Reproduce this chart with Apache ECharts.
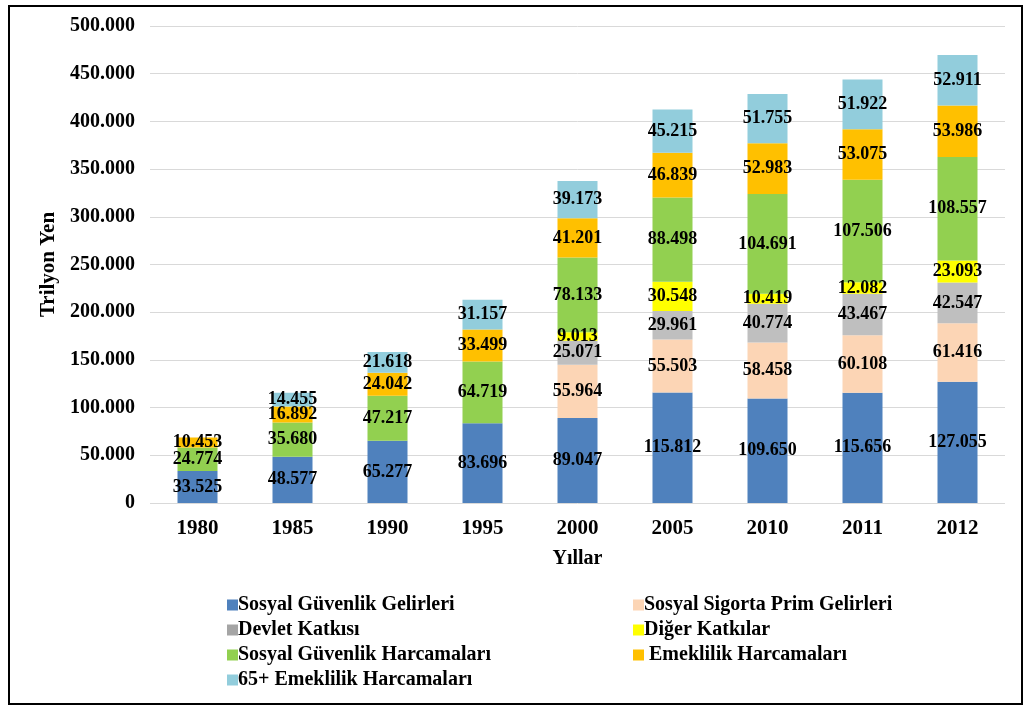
<!DOCTYPE html>
<html><head><meta charset="utf-8">
<script src="https://cdn.jsdelivr.net/npm/echarts@6/dist/echarts.min.js"></script>
<style>
html,body{margin:0;padding:0;background:#fff;}
#frame{position:absolute;left:8px;top:5px;width:1011px;height:696px;border:2px solid #000;}
#c{position:absolute;left:0;top:0;width:1026px;height:708px;}
</style></head><body>
<div id="frame"></div>
<div id="c"></div>
<script>
const years = ['1980','1985','1990','1995','2000','2005','2010','2011','2012'];
const sgGelirleri = [33.525, 48.577, 65.277, 83.696, 89.047, 115.812, 109.650, 115.656, 127.055];
const sigortaPrim = [null, null, null, null, 55.964, 55.503, 58.458, 60.108, 61.416];
const devletKatkisi = [null, null, null, null, 25.071, 29.961, 40.774, 43.467, 42.547];
const digerKatkilar = [null, null, null, null, 9.013, 30.548, 10.419, 12.082, 23.093];
const sgHarcamalari = [24.774, 35.680, 47.217, 64.719, 78.133, 88.498, 104.691, 107.506, 108.557];
const emeklilik = [10.453, 16.892, 24.042, 33.499, 41.201, 46.839, 52.983, 53.075, 53.986];
const emeklilik65 = [null, 14.455, 21.618, 31.157, 39.173, 45.215, 51.755, 51.922, 52.911];
const seriesNames = ['Sosyal Güvenlik Gelirleri','Sosyal Sigorta Prim Gelirleri','Devlet Katkısı','Diğer Katkılar','Sosyal Güvenlik Harcamaları','Emeklilik Harcamaları','65+ Emeklilik Harcamaları'];
const seriesData = [sgGelirleri, sigortaPrim, devletKatkisi, digerKatkilar, sgHarcamalari, emeklilik, emeklilik65];
const colors = ['#4F81BD','#FCD5B5','#BFBFBF','#FFFF00','#92D050','#FFC000','#92CDDC'];
const legendColors = ['#4F81BD','#FCD5B5','#A5A5A5','#FFFF00','#92D050','#FFC000','#92CDDC'];
const serif = '"Liberation Serif","DejaVu Serif",serif';
const chart = echarts.init(document.getElementById('c'));
chart.setOption({
  animation:false,
  grid:{left:150,right:21,top:26,bottom:205},
  xAxis:{type:'category',data:years,
    axisLine:{show:false},axisTick:{show:false},
    axisLabel:{margin:15,fontFamily:serif,fontWeight:'bold',fontSize:21,color:'#000'},
    name:'Yıllar',nameLocation:'middle',nameGap:46,
    nameTextStyle:{fontFamily:serif,fontWeight:'bold',fontSize:20,color:'#000'}},
  yAxis:{type:'value',min:0,max:500,interval:50,
    axisLine:{show:false},axisTick:{show:false},
    splitLine:{lineStyle:{color:'#D9D9D9',width:1}},
    axisLabel:{margin:15,fontFamily:serif,fontWeight:'bold',fontSize:20,color:'#000',
      formatter:v=> v===0 ? '0' : v.toFixed(3)},
    name:'Trilyon Yen',nameLocation:'middle',nameGap:86,nameRotate:90,
    nameTextStyle:{fontFamily:serif,fontWeight:'bold',fontSize:21,color:'#000'}},
  legend:{left:222,top:590,width:840,itemWidth:11,itemHeight:11,itemGap:5,
    icon:'rect',
    data:seriesNames.map((n,i)=>({name:n,itemStyle:{color:legendColors[i]}})),
    formatter:n=> n==='Emeklilik Harcamaları' ? ' '+n : n,
    textStyle:{fontFamily:serif,fontWeight:'bold',fontSize:20,color:'#000',width:390,height:18.7,lineHeight:18.7,padding:[0,0,0,-5]}},
  series:seriesNames.map((n,i)=>({
    name:n,type:'bar',stack:'t',barWidth:40,data:seriesData[i],
    itemStyle:{color:colors[i]},
    label:{show:true,position:'inside',fontFamily:serif,fontWeight:'bold',fontSize:18,color:'#000',
      formatter:p=> p.value==null ? '' : p.value.toFixed(3)}
  }))
});
</script>
</body></html>
